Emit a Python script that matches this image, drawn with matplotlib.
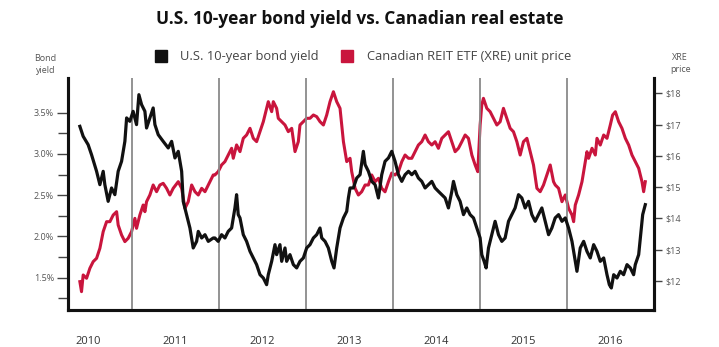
import numpy as np
import matplotlib
matplotlib.use("Agg")
import matplotlib.pyplot as plt
from matplotlib.lines import Line2D

plt.rcParams['font.family'] = ['Open Sans', 'DejaVu Sans']

# U.S. 10-year bond yield (%)
yield_years = [
    2010.406, 2010.444, 2010.501, 2010.540, 2010.598, 2010.636, 2010.674, 2010.693, 2010.731, 2010.770,
    2010.808, 2010.846, 2010.885, 2010.923, 2010.943, 2010.980, 2011.018, 2011.057, 2011.084, 2011.115,
    2011.153, 2011.172, 2011.210, 2011.248, 2011.268, 2011.306, 2011.363, 2011.421, 2011.460, 2011.498,
    2011.536, 2011.575, 2011.593, 2011.632, 2011.670, 2011.708, 2011.747, 2011.766, 2011.805, 2011.843,
    2011.881, 2011.938, 2011.957, 2011.995, 2012.034, 2012.072, 2012.110, 2012.149, 2012.187, 2012.206,
    2012.225, 2012.245, 2012.283, 2012.321, 2012.360, 2012.398, 2012.436, 2012.475, 2012.513, 2012.551,
    2012.570, 2012.609, 2012.647, 2012.666, 2012.704, 2012.724, 2012.762, 2012.781, 2012.819, 2012.858,
    2012.896, 2012.934, 2012.973, 2013.011, 2013.049, 2013.088, 2013.126, 2013.164, 2013.184, 2013.222,
    2013.260, 2013.299, 2013.325, 2013.356, 2013.394, 2013.433, 2013.471, 2013.490, 2013.509, 2013.547,
    2013.586, 2013.624, 2013.662, 2013.682, 2013.720, 2013.758, 2013.797, 2013.835, 2013.873, 2013.911,
    2013.950, 2013.988, 2014.026, 2014.065, 2014.103, 2014.141, 2014.180, 2014.218, 2014.256, 2014.294,
    2014.333, 2014.371, 2014.409, 2014.448, 2014.486, 2014.524, 2014.563, 2014.601, 2014.639, 2014.678,
    2014.697, 2014.735, 2014.773, 2014.812, 2014.850, 2014.888, 2014.927, 2014.965, 2015.003, 2015.022,
    2015.049, 2015.072, 2015.099, 2015.137, 2015.175, 2015.214, 2015.252, 2015.290, 2015.329, 2015.367,
    2015.405, 2015.444, 2015.482, 2015.520, 2015.559, 2015.597, 2015.635, 2015.674, 2015.712, 2015.750,
    2015.789, 2015.827, 2015.865, 2015.904, 2015.943, 2015.981, 2016.019, 2016.058, 2016.096, 2016.115,
    2016.153, 2016.192, 2016.230, 2016.268, 2016.307, 2016.345, 2016.383, 2016.422, 2016.460, 2016.487,
    2016.510, 2016.537, 2016.575, 2016.613, 2016.651, 2016.690, 2016.728, 2016.766, 2016.785, 2016.824,
    2016.843, 2016.870, 2016.900,
]
yield_vals = [
    3.334, 3.213, 3.112, 2.991, 2.789, 2.627, 2.789, 2.627, 2.425, 2.587,
    2.506, 2.789, 2.910, 3.152, 3.436, 3.395, 3.516, 3.355, 3.718, 3.597,
    3.516, 3.314, 3.436, 3.557, 3.355, 3.233, 3.152, 3.072, 3.152, 2.951,
    3.031, 2.789, 2.425, 2.264, 2.102, 1.860, 1.940, 2.061, 1.981, 2.021,
    1.940, 1.981, 1.981, 1.940, 2.021, 1.981, 2.061, 2.102, 2.345, 2.506,
    2.264, 2.224, 2.021, 1.940, 1.819, 1.739, 1.658, 1.536, 1.496, 1.415,
    1.536, 1.698, 1.900, 1.779, 1.900, 1.698, 1.860, 1.698, 1.779, 1.658,
    1.618, 1.698, 1.739, 1.860, 1.900, 1.981, 2.021, 2.102, 1.981, 1.940,
    1.860, 1.698, 1.618, 1.860, 2.102, 2.224, 2.304, 2.466, 2.587, 2.587,
    2.708, 2.748, 3.031, 2.870, 2.789, 2.667, 2.627, 2.466, 2.748, 2.910,
    2.951, 3.031, 2.910, 2.748, 2.667, 2.748, 2.789, 2.748, 2.789, 2.708,
    2.667, 2.587, 2.627, 2.667, 2.587, 2.546, 2.506, 2.466, 2.345, 2.546,
    2.667, 2.506, 2.425, 2.264, 2.345, 2.264, 2.224, 2.102, 1.981, 1.779,
    1.698, 1.618, 1.860, 2.021, 2.183, 2.021, 1.940, 1.981, 2.183, 2.264,
    2.345, 2.506, 2.466, 2.345, 2.425, 2.264, 2.183, 2.264, 2.345, 2.183,
    2.021, 2.102, 2.224, 2.264, 2.183, 2.224, 2.102, 1.940, 1.698, 1.577,
    1.860, 1.940, 1.819, 1.739, 1.900, 1.819, 1.698, 1.739, 1.536, 1.415,
    1.375, 1.536, 1.496, 1.577, 1.536, 1.658, 1.618, 1.536, 1.658, 1.779,
    1.981, 2.264, 2.385,
]

# Canadian REIT ETF (XRE) unit price ($)
xre_years = [
    2010.406, 2010.425, 2010.444, 2010.483, 2010.521, 2010.559, 2010.598, 2010.636, 2010.674, 2010.713,
    2010.751, 2010.789, 2010.828, 2010.846, 2010.885, 2010.923, 2010.961, 2011.000, 2011.038, 2011.057,
    2011.095, 2011.133, 2011.153, 2011.172, 2011.210, 2011.248, 2011.287, 2011.325, 2011.363, 2011.402,
    2011.440, 2011.478, 2011.536, 2011.575, 2011.613, 2011.651, 2011.690, 2011.728, 2011.766, 2011.805,
    2011.843, 2011.900, 2011.938, 2011.957, 2011.995, 2012.034, 2012.072, 2012.110, 2012.149, 2012.168,
    2012.206, 2012.245, 2012.283, 2012.321, 2012.360, 2012.398, 2012.436, 2012.475, 2012.513, 2012.551,
    2012.570, 2012.609, 2012.628, 2012.666, 2012.685, 2012.724, 2012.762, 2012.800, 2012.839, 2012.877,
    2012.915, 2012.934, 2012.973, 2013.011, 2013.049, 2013.088, 2013.126, 2013.164, 2013.203, 2013.241,
    2013.279, 2013.318, 2013.356, 2013.394, 2013.413, 2013.433, 2013.452, 2013.471, 2013.509, 2013.528,
    2013.567, 2013.605, 2013.643, 2013.682, 2013.720, 2013.758, 2013.797, 2013.835, 2013.873, 2013.911,
    2013.950, 2013.988, 2014.026, 2014.065, 2014.103, 2014.141, 2014.180, 2014.218, 2014.256, 2014.294,
    2014.333, 2014.371, 2014.409, 2014.448, 2014.486, 2014.524, 2014.563, 2014.601, 2014.639, 2014.678,
    2014.716, 2014.754, 2014.793, 2014.831, 2014.869, 2014.908, 2014.946, 2014.976, 2015.003, 2015.022,
    2015.041, 2015.080, 2015.118, 2015.156, 2015.195, 2015.233, 2015.271, 2015.310, 2015.348, 2015.386,
    2015.425, 2015.463, 2015.501, 2015.540, 2015.578, 2015.616, 2015.655, 2015.693, 2015.731, 2015.770,
    2015.808, 2015.846, 2015.866, 2015.904, 2015.943, 2015.981, 2016.019, 2016.058, 2016.077, 2016.096,
    2016.134, 2016.173, 2016.211, 2016.230, 2016.249, 2016.288, 2016.326, 2016.345, 2016.383, 2016.422,
    2016.460, 2016.498, 2016.525, 2016.556, 2016.594, 2016.632, 2016.671, 2016.709, 2016.747, 2016.786,
    2016.824, 2016.862, 2016.881, 2016.900,
]
xre_vals = [
    11.977, 11.657, 12.191, 12.085, 12.404, 12.617, 12.724, 13.044, 13.577, 13.895,
    13.895, 14.108, 14.215, 13.789, 13.470, 13.257, 13.364, 13.577, 14.002, 13.683,
    14.108, 14.428, 14.215, 14.535, 14.748, 15.068, 14.854, 15.068, 15.122, 14.962,
    14.748, 14.962, 15.175, 14.962, 14.322, 14.535, 15.068, 14.854, 14.748, 14.962,
    14.854, 15.175, 15.389, 15.389, 15.496, 15.710, 15.816, 16.029, 16.242, 15.923,
    16.349, 16.136, 16.561, 16.668, 16.881, 16.561, 16.455, 16.775, 17.094, 17.520,
    17.733, 17.414, 17.733, 17.520, 17.201, 17.094, 16.987, 16.775, 16.881, 16.136,
    16.455, 16.987, 17.094, 17.201, 17.201, 17.307, 17.254, 17.094, 16.987, 17.307,
    17.733, 18.051, 17.733, 17.520, 16.987, 16.455, 16.136, 15.816, 15.923, 15.496,
    14.962, 14.748, 14.854, 15.068, 15.068, 15.389, 15.175, 15.282, 14.962, 14.850,
    15.174, 15.450, 15.388, 15.494, 15.813, 16.027, 15.922, 15.922, 16.133, 16.347,
    16.453, 16.667, 16.453, 16.347, 16.453, 16.242, 16.561, 16.667, 16.772, 16.453,
    16.133, 16.242, 16.453, 16.667, 16.561, 16.027, 15.708, 15.494, 16.987, 17.626,
    17.840, 17.520, 17.412, 17.201, 16.987, 17.092, 17.520, 17.201, 16.881, 16.772,
    16.453, 16.027, 16.453, 16.561, 16.133, 15.708, 14.963, 14.854, 15.068, 15.388,
    15.708, 15.174, 15.068, 14.963, 14.535, 14.749, 14.324, 14.109, 13.895, 14.429,
    14.749, 15.174, 15.813, 16.133, 15.922, 16.242, 16.027, 16.561, 16.347, 16.667,
    16.561, 16.987, 17.306, 17.412, 17.092, 16.881, 16.561, 16.347, 16.027, 15.813,
    15.602, 15.174, 14.854, 15.174,
]

years = [2010, 2011, 2012, 2013, 2014, 2015, 2016]
yield_ticks = [1.5, 2.0, 2.5, 3.0, 3.5]
yield_labels = ['1.5%', '2.0%', '2.5%', '3.0%', '3.5%']
price_ticks = [12, 13, 14, 15, 16, 17, 18]
price_labels = ['$12', '$13', '$14', '$15', '$16', '$17', '$18']

black = '#111111'
red = '#c9153d'
grey_txt = '#555555'

fig = plt.figure(figsize=(7.19, 3.47), dpi=100)
ax = fig.add_axes([0.0946, 0.1066, 0.815, 0.6686])
ax2 = ax.twinx()

# year separators
for yr in years[1:]:
    ax.axvline(yr, color='#8a8a8a', lw=1.3, zorder=0)

ax2.plot(xre_years, xre_vals, color=red, lw=2.2)
ax.plot(yield_years, yield_vals, color=black, lw=2.3)
ax.set_zorder(ax2.get_zorder() + 1)
ax.patch.set_visible(False)

ax.set_xlim(2010.27, 2017.0)
ax.set_ylim(1.108, 3.92)
ax2.set_ylim(11.07, 18.49)

for a in (ax, ax2):
    a.spines['top'].set_visible(False)
    for s in ('left', 'right', 'bottom'):
        a.spines[s].set_linewidth(2.2)
        a.spines[s].set_color(black)

ax.set_xticks([y + 0.5 for y in years])
ax.set_xticklabels([str(y) for y in years], fontsize=8, color='#333333')
ax.tick_params(axis='x', length=0, pad=19)

ax.set_yticks(yield_ticks)
ax.set_yticklabels(yield_labels, fontsize=6.5, color=grey_txt)
ax.set_yticks([1.25, 1.75, 2.25, 2.75, 3.25], minor=True)
ax.tick_params(axis='y', which='major', length=8, width=1, color='#444444', pad=2)
ax.tick_params(axis='y', which='minor', length=7, width=1, color='#444444')

ax2.set_yticks(price_ticks)
ax2.set_yticklabels(price_labels, fontsize=6.5, color=grey_txt)
ax2.tick_params(axis='y', length=6, width=1, color='#444444', pad=2)

fig.text(0.5, 0.945, 'U.S. 10-year bond yield vs. Canadian real estate',
         ha='center', va='center', fontsize=12.5, fontweight='bold', color='#111111')

fig.text(0.063, 0.813, 'Bond\nyield', ha='center', va='center', fontsize=6.5,
         color=grey_txt, linespacing=1.4)
fig.text(0.946, 0.818, 'XRE\nprice', ha='center', va='center', fontsize=6.5,
         color=grey_txt, linespacing=1.4)

handles = [
    Line2D([], [], marker='s', ms=9, color=black, lw=0),
    Line2D([], [], marker='s', ms=9, color=red, lw=0),
]
fig.legend(handles, ['U.S. 10-year bond yield', 'Canadian REIT ETF (XRE) unit price'],
           loc='center', bbox_to_anchor=(0.5, 0.836), ncol=2, frameon=False,
           fontsize=9.3, handletextpad=0.5, columnspacing=1.2, labelcolor='#444444')

fig.savefig('out.png', dpi=100)
